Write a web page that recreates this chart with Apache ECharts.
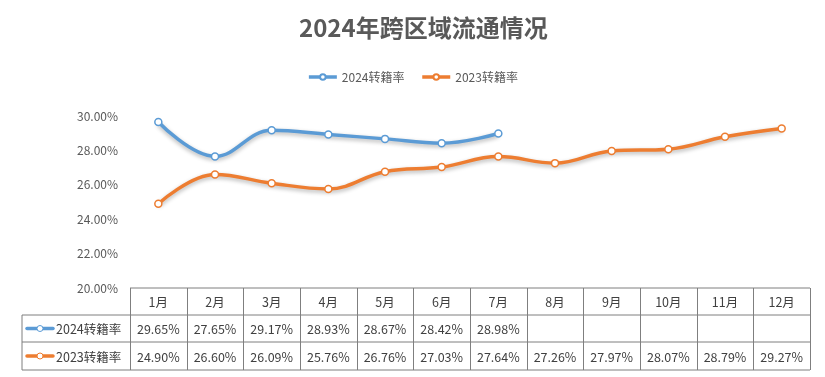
<!DOCTYPE html>
<html>
<head>
<meta charset="utf-8">
<script src="https://cdn.jsdelivr.net/npm/echarts@6/dist/echarts.min.js"></script>
<style>
  html, body { margin: 0; padding: 0; background: #fff; }
  #main { width: 825px; height: 377px; }
</style>
</head>
<body>
<div id="main"></div>
<script>
const months = ["1月", "2月", "3月", "4月", "5月", "6月", "7月", "8月", "9月", "10月", "11月", "12月"];
const rate2024 = [29.65, 27.65, 29.17, 28.93, 28.67, 28.42, 28.98];
const rate2023 = [24.90, 26.60, 26.09, 25.76, 26.76, 27.03, 27.64, 27.26, 27.97, 28.07, 28.79, 29.27];
const seriesNames = ["2024转籍率", "2023转籍率"];
const colors = ["#5B9BD5", "#ED7D31"];

const FONT = "'Noto Sans CJK SC', 'Noto Sans', sans-serif";
const TXT = "#595959";

// plot / table geometry
const left = 130, right = 810, plotTop = 116, plotBottom = 288;
const rowH = [288, 315, 342, 370];
const keyLeft = 22;
const colW = (right - left) / months.length;

const chart = echarts.init(document.getElementById("main"));

// data table drawn under the plot
const graphic = [];
const line = (x1, y1, x2, y2) => graphic.push({
  type: "line", shape: { x1, y1, x2, y2 }, style: { stroke: "#7f7f7f", lineWidth: 1 }, silent: true
});
line(left, rowH[0], right, rowH[0]);
for (let r = 1; r < rowH.length; r++) line(keyLeft, rowH[r], right, rowH[r]);
line(keyLeft, rowH[1], keyLeft, rowH[3]);
for (let c = 0; c <= months.length; c++) {
  const x = Math.round(left + c * colW) + 0.5;
  line(x, rowH[0], x, rowH[3]);
}
const cellText = (text, cx, cy) => graphic.push({
  type: "text", x: cx, y: cy, silent: true,
  style: { text, fill: "#404040", font: "12.5px " + FONT, align: "center", verticalAlign: "middle" }
});
months.forEach((m, i) => cellText(m, left + (i + 0.5) * colW, (rowH[0] + rowH[1]) / 2 + 1));
[rate2024, rate2023].forEach((arr, s) => {
  const cy = (rowH[s + 1] + rowH[s + 2]) / 2 + 1;
  arr.forEach((v, i) => cellText(v.toFixed(2) + "%", left + (i + 0.5) * colW, cy));
  // legend key in the row header
  graphic.push({ type: "line", shape: { x1: 27, y1: cy - 1, x2: 53, y2: cy - 1 },
    style: { stroke: colors[s], lineWidth: 3.5, lineCap: "round" }, silent: true });
  graphic.push({ type: "circle", shape: { cx: 40, cy: cy - 1, r: 3 },
    style: { fill: "#fff", stroke: colors[s], lineWidth: 1 }, silent: true });
  graphic.push({ type: "text", x: 56, y: cy, silent: true,
    style: { text: seriesNames[s], fill: "#404040", font: "12.5px " + FONT, verticalAlign: "middle" } });
});

const mkSeries = (name, data, color) => ({
  name, type: "line", data, smooth: 0.4,
  symbol: "circle", symbolSize: 7, showSymbol: true,
  lineStyle: { color, width: 3.5, shadowColor: "rgba(0,0,0,0.3)", shadowBlur: 4, shadowOffsetY: 2 },
  itemStyle: { color: "#fff", borderColor: color, borderWidth: 1.5 },
  emphasis: { disabled: true },
  color
});

chart.setOption({
  animation: false,
  textStyle: { fontFamily: FONT },
  title: {
    text: "2024年跨区域流通情况", left: 299, top: 16, padding: 0,
    textStyle: { fontSize: 24, fontWeight: "bold", color: TXT, fontFamily: FONT }
  },
  legend: {
    top: 66, left: "center", itemWidth: 28, itemHeight: 7, itemGap: 16,
    lineStyle: { width: 3.5 },
    textStyle: { fontSize: 12, color: TXT, fontFamily: FONT },
    data: seriesNames
  },
  grid: { left, right: 825 - right, top: plotTop, bottom: 377 - plotBottom, containLabel: false },
  xAxis: {
    type: "category", data: months, boundaryGap: true,
    axisLine: { show: false }, axisTick: { show: false }, axisLabel: { show: false }
  },
  yAxis: {
    type: "value", min: 20, max: 30, interval: 2,
    axisLine: { show: false }, axisTick: { show: false }, splitLine: { show: false },
    axisLabel: { formatter: v => v.toFixed(2) + "%", color: TXT, fontSize: 12, margin: 12, fontFamily: FONT }
  },
  series: [mkSeries(seriesNames[0], rate2024, colors[0]), mkSeries(seriesNames[1], rate2023, colors[1])],
  graphic
});
</script>
</body>
</html>
